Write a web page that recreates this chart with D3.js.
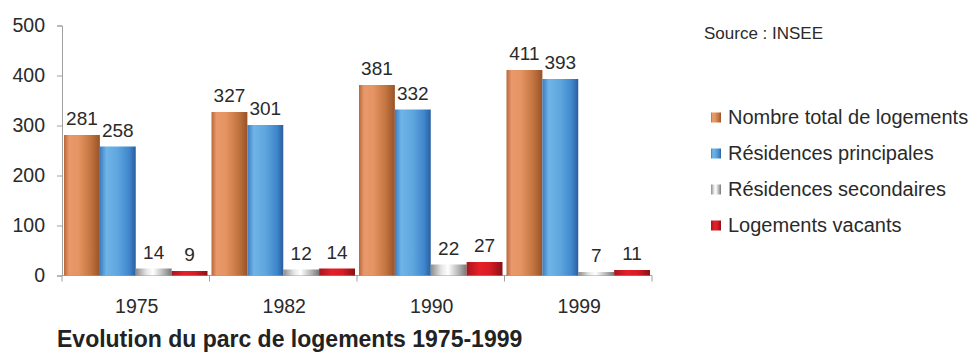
<!DOCTYPE html>
<html>
<head>
<meta charset="utf-8">
<script src="https://cdn.jsdelivr.net/npm/d3@7"></script>
<style>
  html, body { margin: 0; padding: 0; background: #ffffff; }
  svg { display: block; font-family: "Liberation Sans", Arial, sans-serif; }
</style>
</head>
<body>
<svg id="chart" width="976" height="353"></svg>
<script>
// Housing stock by census year (thousands)
const years = ["1975", "1982", "1990", "1999"];
const seriesNames = [
  "Nombre total de logements",
  "Résidences principales",
  "Résidences secondaires",
  "Logements vacants"
];
const totalHousing = [281, 327, 381, 411];
const mainResidences = [258, 301, 332, 393];
const secondaryResidences = [14, 12, 22, 7];
const vacantHousing = [9, 14, 27, 11];
const yTicks = [0, 100, 200, 300, 400, 500];
const chartTitle = "Evolution du parc de logements 1975-1999";
const sourceNote = "Source : INSEE";

const seriesValues = [totalHousing, mainResidences, secondaryResidences, vacantHousing];

// Cylinder-style horizontal shading for each series
const gradients = [
  [["0%", "#b8663a"], ["14%", "#e8996c"], ["40%", "#e59462"], ["75%", "#c27440"], ["100%", "#985228"]],
  [["0%", "#3c7cc0"], ["18%", "#70b4e8"], ["50%", "#5ea6de"], ["82%", "#3f86cc"], ["100%", "#2a5e9e"]],
  [["0%", "#8c8c8c"], ["30%", "#e6e6e6"], ["48%", "#ffffff"], ["78%", "#b4b4b4"], ["100%", "#777777"]],
  [["0%", "#a8161e"], ["35%", "#e42028"], ["65%", "#d81c24"], ["100%", "#8a1016"]]
];

const svg = d3.select("#chart");
const defs = svg.append("defs");
gradients.forEach((stops, i) => {
  const g = defs.append("linearGradient")
    .attr("id", "grad" + i)
    .attr("x1", "0%").attr("x2", "100%").attr("y1", "0%").attr("y2", "0%");
  stops.forEach(([off, col]) => g.append("stop").attr("offset", off).attr("stop-color", col));
});

const plotLeft = 62, plotRight = 652, plotTop = 25.5, plotBottom = 275.5;

const x0 = d3.scaleBand().domain(years).range([plotLeft, plotRight]).padding(0);
const x1 = d3.scaleBand().domain(d3.range(seriesNames.length))
  .range([2, x0.bandwidth() - 2]).padding(0);
const y = d3.scaleLinear().domain([0, 500]).range([plotBottom, plotTop]);

const textColor = "#2a2a2a";
const axisColor = "#a0a0a0";

// Y axis
const yAxis = svg.append("g")
  .attr("transform", `translate(${plotLeft},0)`)
  .call(d3.axisLeft(y).tickValues(yTicks).tickSize(5).tickPadding(12).tickFormat(d3.format("d")));
yAxis.select(".domain").attr("stroke", axisColor);
yAxis.selectAll(".tick line").attr("stroke", axisColor);
yAxis.selectAll(".tick text")
  .attr("fill", textColor)
  .style("font-size", "19.5px")
  .style("font-family", "'Liberation Sans', Arial, sans-serif");

// X axis with separator ticks between categories
const xAxisG = svg.append("g").attr("transform", `translate(0,${plotBottom})`);
xAxisG.append("line")
  .attr("x1", plotLeft).attr("x2", plotRight)
  .attr("y1", 0).attr("y2", 0)
  .attr("stroke", axisColor);
const sepPositions = years.map(d => x0(d)).concat([x0(years[years.length - 1]) + x0.bandwidth()]);
xAxisG.selectAll("line.sep").data(sepPositions).enter().append("line")
  .attr("class", "sep")
  .attr("x1", d => d).attr("x2", d => d)
  .attr("y1", 0).attr("y2", 6)
  .attr("stroke", axisColor);
xAxisG.selectAll("text.year").data(years).enter().append("text")
  .attr("class", "year")
  .attr("x", d => x0(d) + x0.bandwidth() / 2 + 1)
  .attr("y", 37.5)
  .attr("text-anchor", "middle")
  .attr("fill", textColor)
  .style("font-size", "19.5px")
  .text(d => d);

// Bars
const barData = [];
years.forEach((yr, yi) => {
  seriesValues.forEach((vals, si) => {
    barData.push({ year: yr, series: si, value: vals[yi] });
  });
});

const bars = svg.append("g");
bars.selectAll("rect").data(barData).enter().append("rect")
  .attr("x", d => x0(d.year) + x1(d.series))
  .attr("width", x1.bandwidth())
  .attr("y", d => y(d.value))
  .attr("height", d => y(0) - y(d.value))
  .attr("fill", d => `url(#grad${d.series})`);

// Value labels
svg.append("g").selectAll("text").data(barData).enter().append("text")
  .attr("x", d => x0(d.year) + x1(d.series) + x1.bandwidth() / 2)
  .attr("y", d => y(d.value) - 10)
  .attr("text-anchor", "middle")
  .attr("fill", textColor)
  .style("font-size", "19px")
  .text(d => d.value);

// Source note
svg.append("text")
  .attr("x", 704).attr("y", 39)
  .attr("fill", textColor)
  .style("font-size", "17px")
  .text(sourceNote);

// Legend
const legendRows = [117, 153, 189, 225];
const legend = svg.append("g");
seriesNames.forEach((name, i) => {
  legend.append("rect")
    .attr("x", 711).attr("y", legendRows[i] - 4.5)
    .attr("width", 10).attr("height", 10)
    .attr("fill", `url(#grad${i})`);
  legend.append("text")
    .attr("x", 728).attr("y", legendRows[i] + 7)
    .attr("fill", textColor)
    .style("font-size", "20px")
    .text(name);
});

// Title
svg.append("text")
  .attr("x", 57).attr("y", 347)
  .attr("fill", "#222")
  .style("font-size", "23px")
  .style("font-weight", "bold")
  .text(chartTitle);
</script>
</body>
</html>
